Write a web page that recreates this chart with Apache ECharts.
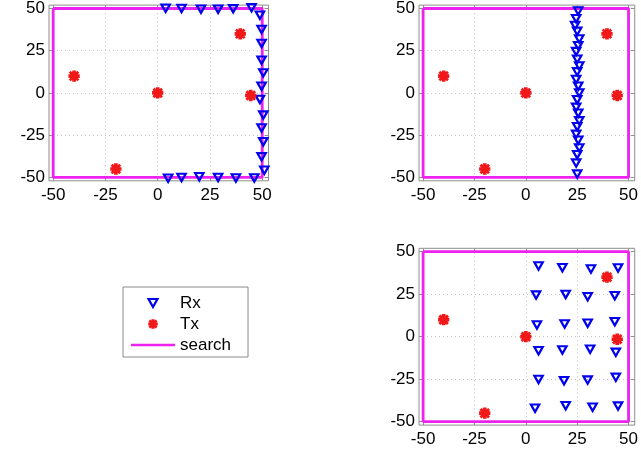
<!DOCTYPE html>
<html>
<head>
<meta charset="utf-8">
<script src="https://cdn.jsdelivr.net/npm/echarts@6/dist/echarts.min.js"></script>
<style>
  html, body { margin: 0; padding: 0; background: #ffffff; }
  #chart { width: 641px; height: 450px; }
</style>
</head>
<body>
<div id="chart"></div>
<script>
// Axis ticks shared by every panel
const tickValues = [-50, -25, 0, 25, 50];

// Transmitters (same in every panel)
const txX = [-40, -20, 0, 39.5, 44.5];
const txY = [10, -45, 0, 35, -1.5];

// Search region boundary
const searchX = [-50, 50, 50, -50, -50];
const searchY = [50, 50, -50, -50, 50];

// Receivers, panel 1: along the top, right and bottom edges
const rxEdgeX = [3.8, 11.4, 20.7, 28.9, 36.1, 44.9,
                 48.9, 49.7, 49.7, 49.7, 50.5, 49.7, 48.9, 50.5, 49.7, 50.5, 49.7, 51,
                 5, 11.4, 19.9, 28.9, 37.4, 46.2];
const rxEdgeY = [50.2, 50, 49.6, 49.6, 49.8, 50.4,
                 46, 37.6, 29.3, 19.4, 11.9, 4, -3.8, -13.1, -20.7, -28.9, -37.8, -45.7,
                 -50.5, -50, -49.6, -50, -50.3, -50.3];

// Receivers, panel 2: a column near x = 25
const rxLineX = [25.5, 24.5, 24, 25, 26, 25.5, 24.5, 25, 26, 25, 24.5, 25.5,
                 26, 25, 24.5, 25.5, 26, 25, 24.5, 25.5, 26, 25, 24.5, 25];
const rxLineY = [48.5, 44, 40, 36.5, 32, 28, 24.5, 20, 16, 12.5, 8, 4,
                 0, -4, -8.5, -12, -16.5, -20, -24.5, -28, -32.5, -36.5, -41.5, -48];

// Receivers, panel 3: a loose grid on the right half
const rxGridX = [6.2, 17.8, 31.7, 44.9,
                 5.0, 19.4, 30.1, 43.3,
                 5.4, 18.9, 30.1, 43.3,
                 6.2, 17.8, 31.3, 43.8,
                 6.2, 18.6, 30.1, 43.8,
                 4.5, 19.4, 32.5, 44.9];
const rxGridY = [41.6, 40.6, 39.8, 40.4,
                 24.5, 24.9, 23.5, 24.1,
                 6.9, 7.5, 7.9, 8.8,
                 -8.2, -7.8, -7.4, -9.2,
                 -25.1, -25.9, -25.5, -23.9,
                 -42.1, -40.6, -41.5, -40.8];

const X_MIN = -52, X_MAX = 53;
const Y_MIN = -52, Y_MAX = 52;

const BLUE = '#0000ee';
const RED = '#f01818';
const MAGENTA = '#ee22ee';
const FRAME = '#8e8e8e';
const FONT = 'Liberation Sans';

const TRI_DOWN = 'path://M0,0L10,0L5,9Z';
const ASTERISK = 'path://M0,4L10,4L10,6L0,6Z M4,0L6,0L6,10L4,10Z ' +
                 'M1.5,0.8L9.2,8.5L8.5,9.2L0.8,1.5Z M8.5,0.8L9.2,1.5L1.5,9.2L0.8,8.5Z';
const SEARCH_ICON = 'path://M0,0L44,0L44,2.4L0,2.4Z';

const zip = (xs, ys) => xs.map((x, i) => [x, ys[i]]);

const panels = [
  { grid: { left: 49, top: 5, width: 219.5, height: 175.8 }, rxX: rxEdgeX, rxY: rxEdgeY },
  { grid: { left: 419, top: 5, width: 219.5, height: 175.8 }, rxX: rxLineX, rxY: rxLineY },
  { grid: { left: 419, top: 248.3, width: 219.5, height: 176.8 }, rxX: rxGridX, rxY: rxGridY }
];

const labelStyle = { color: '#000', fontSize: 17, fontFamily: FONT };
const splitStyle = { show: true, lineStyle: { color: '#c4c4c4', width: 1, type: [1, 3] } };
const tickStyle = { show: true, inside: true, length: 4, customValues: tickValues, lineStyle: { color: FRAME } };

const grid = [], xAxis = [], yAxis = [], series = [];

panels.forEach((p, i) => {
  grid.push(Object.assign({
    show: true, borderColor: FRAME, borderWidth: 1, backgroundColor: '#fff', containLabel: false
  }, p.grid));

  // bottom / left axes carry labels and grid lines
  xAxis.push({
    gridIndex: i, type: 'value', min: X_MIN, max: X_MAX, position: 'bottom',
    axisLine: { show: false, onZero: false },
    axisTick: tickStyle,
    axisLabel: Object.assign({ customValues: tickValues, margin: 6 }, labelStyle),
    splitLine: splitStyle
  });
  yAxis.push({
    gridIndex: i, type: 'value', min: Y_MIN, max: Y_MAX, position: 'left',
    axisLine: { show: false, onZero: false },
    axisTick: tickStyle,
    axisLabel: Object.assign({ customValues: tickValues, margin: 4 }, labelStyle),
    splitLine: splitStyle
  });
  // mirrored ticks on the top / right edges of the box
  xAxis.push({
    gridIndex: i, type: 'value', min: X_MIN, max: X_MAX, position: 'top',
    axisLine: { show: false, onZero: false },
    axisTick: tickStyle,
    axisLabel: { show: false }, splitLine: { show: false }
  });
  yAxis.push({
    gridIndex: i, type: 'value', min: Y_MIN, max: Y_MAX, position: 'right',
    axisLine: { show: false, onZero: false },
    axisTick: tickStyle,
    axisLabel: { show: false }, splitLine: { show: false }
  });

  const xi = i * 2, yi = i * 2;
  series.push({
    name: 'search', type: 'line', xAxisIndex: xi, yAxisIndex: yi,
    data: zip(searchX, searchY), showSymbol: false, symbol: 'none',
    lineStyle: { color: MAGENTA, width: 2.8 }, itemStyle: { color: MAGENTA },
    z: 2, silent: true, animation: false
  });
  series.push({
    name: 'Rx', type: 'scatter', xAxisIndex: xi, yAxisIndex: yi,
    data: zip(p.rxX, p.rxY), symbol: TRI_DOWN, symbolSize: [8.4, 7.4],
    itemStyle: { color: 'rgba(255,255,255,0)', borderColor: BLUE, borderWidth: 2.2, opacity: 1 },
    z: 3, animation: false
  });
  series.push({
    name: 'Tx', type: 'scatter', xAxisIndex: xi, yAxisIndex: yi,
    data: zip(txX, txY), symbol: ASTERISK, symbolSize: 9.5,
    itemStyle: { color: RED, borderColor: RED, borderWidth: 1.8, opacity: 1 },
    z: 4, animation: false
  });
});

const chart = echarts.init(document.getElementById('chart'), null, { renderer: 'canvas' });
chart.setOption({
  backgroundColor: '#ffffff',
  animation: false,
  grid, xAxis, yAxis, series,
  legend: {
    orient: 'vertical', left: 123, top: 287,
    padding: [7, 17, 3, 8],
    itemWidth: 44, itemHeight: 8, itemGap: 3,
    borderColor: '#8a8a8a', borderWidth: 1, backgroundColor: '#ffffff',
    selectedMode: false, symbolKeepAspect: true,
    textStyle: { color: '#000', fontSize: 17, fontFamily: FONT, lineHeight: 18 },
    data: [
      { name: 'Rx', icon: TRI_DOWN,
        itemStyle: { color: 'rgba(255,255,255,0)', borderColor: BLUE, borderWidth: 2.2 } },
      { name: 'Tx', icon: ASTERISK,
        itemStyle: { color: RED, borderColor: RED, borderWidth: 1.6 } },
      { name: 'search', icon: SEARCH_ICON,
        itemStyle: { color: MAGENTA, borderWidth: 0 } }
    ]
  }
});
</script>
</body>
</html>
